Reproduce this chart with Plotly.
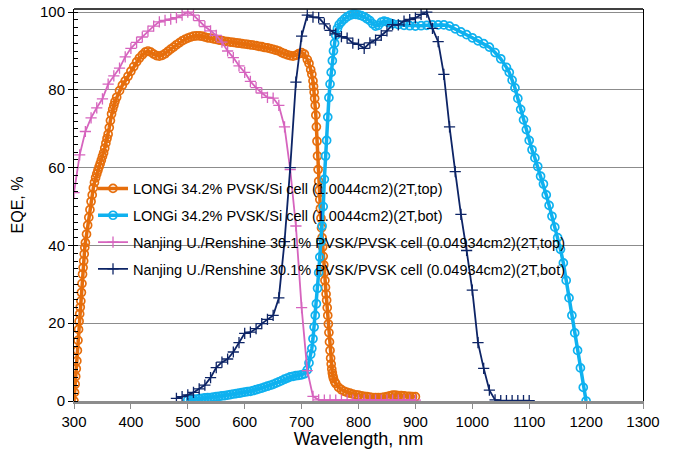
import plotly.graph_objects as go

# ---- LONGi 34.2% PVSK/Si (top) ----
longi_top_nm = [300,301,302,303,304,305,306,307,308,309,310,311,312,313,314,315,316,317,318,319,320,
                322,324,326,328,330,332,334,336,338,340,342,344,346,348,350,352,354,356,358,360,362,364,366,368,370,372,
                375,380,385,390,395,400,405,410,415,420,425,430,435,440,445,450,455,460,465,470,475,480,485,490,495,
                500,505,510,515,520,525,530,535,540,545,550,555,560,565,570,575,580,585,590,595,600,605,610,615,620,
                625,630,635,640,645,650,655,660,665,670,675,680,685,690,695,700,705,710,713,716,718,720,
                721,722,723,724,725,726,727,728,729,730,731,732,733,734,735,736,737,738,739,740,741,742,743,744,745,
                746,747,748,749,750,751,752,753,754,755,756,758,760,765,770,775,780,785,790,795,800,805,810,815,820,
                825,830,835,840,845,850,855,860,865,870,875,880,885,890,895,900]
longi_top_eqe = [0,2.2,4.3,6.3,8.3,10.3,13.0,15.6,18.4,20.5,22.4,24.1,25.7,27.9,30.2,32.6,34.3,36.0,37.8,39.5,40.7,
                 42.9,45.2,47.2,49.2,51.3,53.0,54.8,56.2,57.4,58.4,59.3,60.2,61.0,61.9,62.9,63.8,65.0,66.3,67.5,68.6,70.3,72.1,73.8,75.0,76.0,77.0,
                 78.1,79.8,81.2,82.3,83.5,84.8,86.0,87.2,88.2,89.0,89.7,90.0,89.7,89.2,88.8,88.7,88.9,89.3,89.9,90.5,91.0,91.6,92.1,92.6,93.0,
                 93.3,93.6,93.8,93.9,93.9,93.8,93.6,93.4,93.3,93.1,93.0,92.8,92.7,92.5,92.4,92.3,92.2,92.1,92.0,91.9,91.8,91.7,91.6,91.5,91.4,
                 91.2,91.1,90.9,90.8,90.6,90.4,90.2,90.0,89.6,89.3,89.0,88.8,88.7,88.9,89.3,89.6,89.2,87.8,86.8,85.2,84.0,82.3,
                 80.9,79.4,77.8,76.0,73.5,70.5,66.8,63.0,59.5,56.5,54.2,51.8,49.5,47.0,44.5,42.0,39.6,37.2,35.0,33.0,31.0,29.2,27.5,25.9,24.0,
                 22.0,19.8,17.6,15.2,13.0,11.0,9.5,8.2,7.2,6.4,5.8,5.0,4.5,3.5,2.9,2.5,2.2,2.0,1.8,1.6,1.5,1.3,1.2,1.1,1.0,
                 0.9,0.9,0.9,0.9,1.0,1.1,1.3,1.5,1.5,1.4,1.4,1.3,1.2,1.2,1.1,1.1]

# ---- LONGi 34.2% PVSK/Si (bottom) ----
longi_bot_nm = [500,505,510,515,520,525,530,535,540,545,550,555,560,565,570,575,580,585,590,595,600,605,610,615,620,
                625,630,635,640,645,650,655,660,665,670,675,680,685,690,695,700,705,710,713,716,718,720,722,724,726,728,
                730,732,734,736,738,740,742,744,746,748,750,752,754,756,758,760,763,766,770,775,780,785,790,795,800,805,
                810,815,820,825,830,835,840,845,850,855,860,870,880,890,900,910,920,930,940,950,960,970,980,990,1000,
                1010,1020,1030,1040,1050,1060,1065,1070,1075,1080,1085,1090,1095,1100,1105,1110,1115,1120,1125,1130,
                1135,1140,1145,1150,1155,1160,1165,1170,1175,1180,1185,1190,1195,1200]
longi_bot_eqe = [0.3,0.35,0.4,0.5,0.6,0.7,0.8,0.85,0.9,1.0,1.1,1.2,1.3,1.4,1.5,1.65,1.8,1.9,2.0,2.15,2.3,2.4,2.5,2.7,2.9,
                 3.1,3.3,3.55,3.8,4.05,4.3,4.6,4.9,5.25,5.6,5.9,6.2,6.35,6.5,6.6,6.7,7.0,8.0,9.8,12.0,13.5,16.0,19.0,22.0,25.0,29.0,
                 33.0,37.0,41.0,45.0,50.0,57.0,63.0,67.0,73.0,78.0,81.5,84.5,87.5,90.0,92.0,94.0,95.8,96.8,97.5,98.2,98.8,99.2,99.4,99.4,99.3,99.1,
                 98.8,98.3,97.8,97.0,96.4,96.6,97.4,97.7,97.5,97.2,97.0,96.8,96.6,96.5,96.4,96.5,96.6,96.7,96.7,96.7,96.4,95.7,94.9,94.2,93.4,
                 92.6,91.9,91.0,89.6,88.0,85.8,84.5,82.5,80.5,77.8,75.0,72.3,69.8,67.0,64.6,62.5,60.3,57.8,55.8,53.0,
                 50.3,47.5,44.7,42.0,39.0,35.5,31.0,26.5,22.0,17.5,13.0,8.5,3.5,0]

# ---- Nanjing U./Renshine 30.1% PVSK/PVSK (top) ----
nj_top_nm = [300,310,320,330,340,350,360,370,380,390,400,410,420,430,440,450,460,470,480,490,500,510,520,530,540,
             550,560,570,580,590,600,610,620,630,640,650,660,670,680,690,700,710,720,730,740,750,760,770,780,790,
             800,810,820,830,840,850,860,870,880,890,900]
nj_top_eqe = [53.6,63.3,69.3,72.8,75.4,77.7,81.5,83.6,85.6,88.5,90.7,92.2,93.6,95.1,96.4,97.5,97.9,98.2,98.6,99.2,100.0,99.2,97.8,96.3,95.2,
              94.0,92.3,90.0,88.3,86.2,84.5,82.2,80.6,79.2,78.1,77.9,76.0,70.5,59.5,45.0,24.0,7.8,1.2,0.3,0.2,0.2,0.2,0.2,0.2,0.2,
              0.2,0.2,0.2,0.2,0.2,0.2,0.2,0.2,0.2,0.2,0.2]

# ---- Nanjing U./Renshine 30.1% PVSK/PVSK (bottom) ----
nj_bot_nm = [480,490,500,510,520,530,540,550,560,570,580,590,600,610,620,630,640,650,660,670,680,690,700,710,720,
             730,740,750,760,770,780,790,800,810,820,830,840,850,860,870,880,890,900,910,920,930,940,950,960,970,
             980,990,1000,1010,1020,1030,1040,1050,1060,1070,1080,1090,1100]
nj_bot_eqe = [0.7,1.1,1.6,2.2,3.1,4.1,6.0,8.6,10.0,10.8,12.6,15.0,17.4,17.7,18.6,19.9,21.0,22.0,26.5,41.0,60.0,82.0,93.8,99.2,98.7,
              98.6,97.0,95.3,94.4,93.7,93.3,92.0,91.7,90.7,92.1,92.8,94.0,95.2,96.8,96.7,97.7,98.1,98.5,99.4,100.0,95.8,92.4,84.0,70.5,59.0,
              48.0,38.7,28.5,15.0,8.4,2.8,0.3,0.1,0.1,0.1,0.1,0.1,0.1]

series_names = [
    "LONGi 34.2% PVSK/Si cell (1.0044cm2)(2T,top)",
    "LONGi 34.2% PVSK/Si cell (1.0044cm2)(2T,bot)",
    "Nanjing U./Renshine 30.1% PVSK/PVSK cell (0.04934cm2)(2T,top)",
    "Nanjing U./Renshine 30.1% PVSK/PVSK cell (0.04934cm2)(2T,bot)",
]
x_ticks = [300, 400, 500, 600, 700, 800, 900, 1000, 1100, 1200, 1300]
y_ticks = [0, 20, 40, 60, 80, 100]

ORANGE = "#E66E0C"
CYAN = "#0FB1EF"
PINK = "#D664BE"
NAVY = "#0D2466"

fig = go.Figure()
fig.add_trace(go.Scatter(x=longi_top_nm, y=longi_top_eqe, name=series_names[0], legendgroup="a",
                         mode="lines+markers", line=dict(color=ORANGE, width=3.5),
                         marker=dict(symbol="circle-open", size=8, color=ORANGE, line=dict(width=1.7, color=ORANGE))))
fig.add_trace(go.Scatter(x=longi_bot_nm, y=longi_bot_eqe, name=series_names[1], legendgroup="b",
                         mode="lines+markers", line=dict(color=CYAN, width=3.5),
                         marker=dict(symbol="circle-open", size=8, color=CYAN, line=dict(width=1.7, color=CYAN))))
fig.add_trace(go.Scatter(x=nj_top_nm, y=nj_top_eqe, name=series_names[2], legendgroup="c",
                         mode="lines+markers", line=dict(color=PINK, width=1.8),
                         marker=dict(symbol="cross-thin", size=8, color=PINK, line=dict(width=1.3, color=PINK))))
fig.add_trace(go.Scatter(x=nj_bot_nm, y=nj_bot_eqe, name=series_names[3], legendgroup="d",
                         mode="lines+markers", line=dict(color=NAVY, width=1.8),
                         marker=dict(symbol="cross-thin", size=8, color=NAVY, line=dict(width=1.3, color=NAVY))))

FONT = "Liberation Sans, Arial, sans-serif"
fig.update_layout(
    width=673, height=461,
    margin=dict(l=74, r=30, t=9, b=60),
    paper_bgcolor="white", plot_bgcolor="white",
    font=dict(family=FONT, size=15, color="black"),
    showlegend=True,
    legend=dict(x=0.0334, y=0.583, xanchor="left", yanchor="top", bgcolor="rgba(0,0,0,0)",
                font=dict(size=14.5, family=FONT, color="black"), traceorder="grouped",
                tracegroupgap=5, itemwidth=30),
    xaxis=dict(range=[300, 1300], tickvals=x_ticks, ticktext=[str(v) for v in x_ticks],
               showgrid=False, zeroline=False, showline=True, linecolor="#8C8C8C", linewidth=2.5,
               ticks="outside", ticklen=5, tickcolor="#8C8C8C", tickwidth=1, automargin=False,
               title=dict(text="Wavelength, nm", font=dict(size=18), standoff=4),
               tickfont=dict(size=15)),
    yaxis=dict(range=[0, 100.8], tickvals=y_ticks, showgrid=True, gridcolor="#8C8C8C", gridwidth=1,
               zeroline=False, showline=True, linecolor="black", linewidth=1, mirror=True,
               ticks="outside", ticklen=5, tickcolor="black", automargin=False,
               minor=dict(dtick=2, ticks="inside", ticklen=4, tickcolor="black", showgrid=False),
               title=dict(text="EQE, %", font=dict(size=16), standoff=12),
               tickfont=dict(size=15)),
    shapes=[dict(type="line", xref="paper", yref="paper", x0=0, x1=1, y0=1, y1=1,
                 line=dict(color="black", width=1.5))],
)

# remove the browser's default 8 px body margin so the figure fills the window exactly
fig.write_html("out.html", config={"displayModeBar": False, "staticPlot": True},
               post_script="document.body.style.margin='0';document.body.style.overflow='hidden';")
